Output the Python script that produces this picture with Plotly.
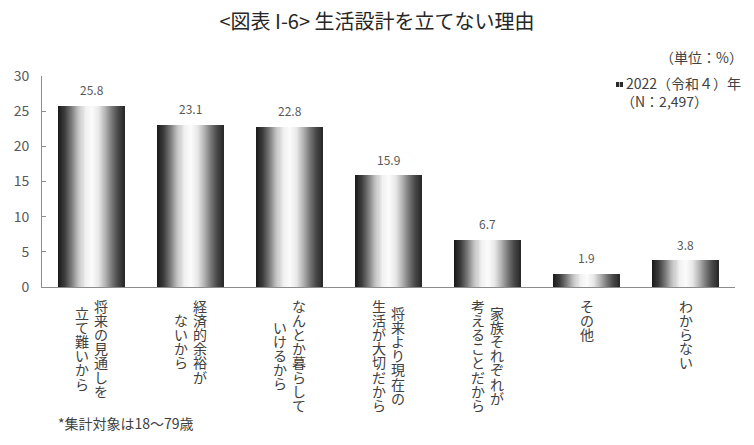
import plotly.graph_objects as go
import numpy as np

# ---- data ----
categories = ["将来の見通しを立て難いから", "経済的余裕がないから", "なんとか暮らしていけるから",
              "将来より現在の生活が大切だから", "家族それぞれが考えることだから", "その他", "わからない"]
label_lines = [["将来の見通しを", "立て難いから"],
               ["経済的余裕が", "ないから"],
               ["なんとか暮らして", "いけるから"],
               ["将来より現在の", "生活が大切だから"],
               ["家族それぞれが", "考えることだから"],
               ["その他"],
               ["わからない"]]
values = [25.8, 23.1, 22.8, 15.9, 6.7, 1.9, 3.8]
y_ticks = [0, 5, 10, 15, 20, 25, 30]
series_name = "2022（令和４）年"
sample_note = "（N：2,497）"

# ---- style ----
FONT = "Noto Sans CJK JP"
grad_t = [0.0, 0.1, 0.2, 0.3, 0.4, 0.5, 0.6, 0.7, 0.8, 0.9, 1.0]
grad_g = [25, 60, 120, 190, 240, 252, 232, 180, 120, 70, 40]
BAR_W = 0.667
N = 66
sw = BAR_W / N
idx = list(range(len(categories)))

fig = go.Figure()
for i in range(N):
    t = (i + 0.5) / N
    g = int(round(np.interp(t, grad_t, grad_g)))
    w = sw * 2.0 if i < N - 1 else sw
    fig.add_trace(go.Bar(
        x=idx, y=values, width=w, offset=-BAR_W / 2 + i * sw,
        marker=dict(color=f"rgb({g},{g},{g})", line=dict(width=0)),
        hoverinfo="skip", showlegend=False, name=series_name))

annotations = []
# value labels
for i, v in enumerate(values):
    annotations.append(dict(x=i, y=v, xref="x", yref="y", text=f"{v:.1f}",
                            showarrow=False, yanchor="middle", yshift=16,
                            font=dict(family=FONT, size=12, color="#595959")))
# vertical category labels (one annotation per column; line pitch set by base font size)
pitch = 14.1
base_size = pitch / 1.3
for i, lines in enumerate(label_lines):
    nmax = max(len(s) for s in lines)
    xs = [0] if len(lines) == 1 else [9, -10]
    for col, s in enumerate(lines):
        off = (nmax - len(s)) / 2
        txt = "<br>".join(f"<span style='font-size:14px'>{ch}</span>" for ch in s)
        annotations.append(dict(x=i, y=0, xref="x", yref="y", text=txt,
                                showarrow=False, xanchor="center", yanchor="top",
                                align="center", borderpad=0,
                                xshift=xs[col], yshift=-(8 + pitch * off),
                                font=dict(family=FONT, size=base_size, color="#404040")))
# unit
annotations.append(dict(x=1, y=1, xref="paper", yref="paper", text="（単位：%）",
                        showarrow=False, xanchor="right", yanchor="middle",
                        xshift=10, yshift=19,
                        font=dict(family=FONT, size=14, color="#404040")))
# legend text
annotations.append(dict(x=1, y=1, xref="paper", yref="paper", text=series_name,
                        showarrow=False, xanchor="left", yanchor="middle",
                        xshift=-111, yshift=-7,
                        font=dict(family=FONT, size=14, color="#404040")))
annotations.append(dict(x=1, y=1, xref="paper", yref="paper", text=sample_note,
                        showarrow=False, xanchor="left", yanchor="middle",
                        xshift=-116, yshift=-25,
                        font=dict(family=FONT, size=14, color="#404040")))
# footnote
annotations.append(dict(x=0, y=0, xref="paper", yref="paper", text="*集計対象は18～79歳",
                        showarrow=False, xanchor="left", yanchor="middle",
                        xshift=14, yshift=-136,
                        font=dict(family=FONT, size=14, color="#404040")))

shapes = []
for (a, b, c) in [(-119, -116, "#2a2a2a"), (-116, -115, "#bbbbbb"), (-115, -112, "#2a2a2a")]:
    shapes.append(dict(type="rect", xref="paper", yref="paper",
                       xsizemode="pixel", ysizemode="pixel",
                       xanchor=1, yanchor=1, x0=a, x1=b, y0=-6, y1=-11,
                       fillcolor=c, line=dict(width=0)))

fig.update_layout(
    width=754, height=445,
    margin=dict(l=42, r=19, t=76, b=158),
    paper_bgcolor="white", plot_bgcolor="white",
    barmode="overlay", bargap=0,
    title=dict(text="<図表 I-6> 生活設計を立てない理由", x=0.5, xref="container",
               y=1 - 22 / 445, yref="container", xanchor="center", yanchor="middle",
               font=dict(family=FONT, size=20, color="#262626")),
    xaxis=dict(range=[-0.5, len(categories) - 0.5], showticklabels=False, ticks="",
               showline=True, linecolor="#8c8c8c", linewidth=1, showgrid=False,
               zeroline=False, fixedrange=True),
    yaxis=dict(range=[0, 30], tickvals=y_ticks, ticks="inside", ticklen=4,
               tickcolor="#8c8c8c", showline=True, linecolor="#8c8c8c", linewidth=1,
               showgrid=False, zeroline=False, ticklabelstandoff=9,
               tickfont=dict(family=FONT, size=14, color="#595959")),
    annotations=annotations,
    shapes=shapes,
    showlegend=False,
)

fig.write_html("out.html")
